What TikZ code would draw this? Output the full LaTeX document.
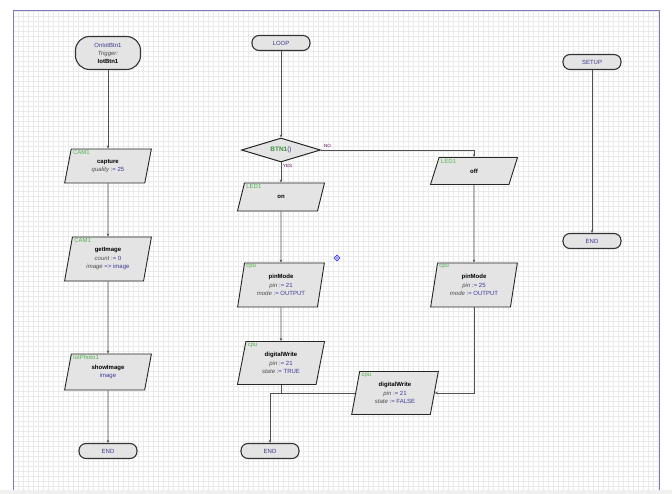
\documentclass[tikz,border=0pt]{standalone}
\usepackage{fontspec}
\setmainfont{Liberation Sans}
\usetikzlibrary{shapes.geometric,arrows.meta}
\definecolor{fillg}{HTML}{E4E4E4}
\definecolor{cmpg}{HTML}{4FB34F}
\definecolor{valb}{HTML}{3A3A9A}
\definecolor{termb}{HTML}{3B3B8C}
\definecolor{frameb}{HTML}{7B7BBB}
\definecolor{gridc}{HTML}{EAEAEA}
\definecolor{linec}{HTML}{505050}
\newcommand{\fpn}[1]{\textit{\color{black!70}#1}}
\newcommand{\fasg}{{\color{valb}:=}}
\newcommand{\fval}[1]{{\color{valb}#1}}
\newcommand{\ffn}[1]{\textbf{#1}}
\tikzset{
 term/.style={draw=black!80, line width=1.1pt, fill=fillg, rounded corners=7pt, minimum width=58pt, minimum height=15pt, inner sep=0pt, font=\fontsize{6}{6}\selectfont, text=termb},
 proc/.style={trapezium, trapezium left angle=78, trapezium right angle=102, trapezium stretches=true, draw=black!85, line width=0.9pt, fill=fillg, minimum width=87pt, inner sep=0pt, font=\fontsize{6}{8.5}\selectfont, align=center},
 dec/.style={diamond, draw=black!85, line width=1pt, fill=fillg, minimum width=79pt, minimum height=24pt, inner sep=0pt, aspect=3},
 cmp/.style={font=\fontsize{6}{6}\selectfont, text=cmpg, anchor=west, inner sep=0pt},
 conn/.style={draw=linec, line width=0.6pt, -{Stealth[length=3pt,width=2.5pt]}},
 plain/.style={draw=linec, line width=0.6pt},
 lbl/.style={font=\fontsize{4.5}{5}\selectfont, text=violet!70!black, inner sep=0pt},
}
\begin{document}
\begin{tikzpicture}[x=1pt,y=-1pt]
\useasboundingbox (0,0) rectangle (672,494);
\fill[white] (0,0) rectangle (672,494);
\fill[black!6] (0,490) rectangle (672,494);
% grid
\foreach \x in {13,18,...,659} \draw[gridc, line width=0.3pt] (\x,11) -- (\x,490);
\foreach \y in {11,16,...,490} \draw[gridc, line width=0.3pt] (13,\y) -- (659,\y);
\draw[frameb, line width=1pt] (13,490) -- (13,11) -- (659,11) -- (659,490);

% column 1
\node[term, rounded corners=14pt, minimum width=65pt, minimum height=33pt, align=center, font=\fontsize{6}{8}\selectfont] (trig) at (108,53) {OnIotBtn1\\\textit{\color{black!70}Trigger:}\\\textbf{\color{black}IotBtn1}};
\node[proc, minimum height=34pt] (cap) at (108,166) {\ffn{capture}\\\fpn{quality} \fasg\ \fval{25}};
\node[cmp] (capl) at ([xshift=2pt,yshift=-4pt]cap.top left corner) {CAM1};
\node[proc, minimum height=44pt] (gi) at (108,259) {\ffn{getImage}\\\fpn{count} \fasg\ \fval{0}\\\fpn{image} \fval{=> image}};
\node[cmp] (gil) at ([xshift=2pt,yshift=-4pt]gi.top left corner) {CAM1};
\node[proc, minimum height=36pt] (show) at (108,372) {\ffn{showImage}\\\fval{image}};
\node[cmp] (showl) at ([xshift=2pt,yshift=-4pt]show.top left corner) {IotPhoto1};
\node[term] (end1) at (108,451) {END};
\draw[conn] (trig) -- (cap);
\draw[conn] (cap) -- (gi);
\draw[conn] (gi) -- (show);
\draw[conn] (show) -- (end1);

% column 2
\node[term] (loop) at (281,43) {LOOP};
\node[dec, font=\fontsize{6.5}{7}\selectfont\bfseries] (btn) at (281,150) {\textcolor{cmpg!80!black}{BTN1}\textcolor{valb}{\mdseries()}};
\node[lbl, anchor=south west] (nol) at ([xshift=3pt,yshift=2pt]btn.east) {NO};
\node[lbl, anchor=north west] (yesl) at ([xshift=2pt,yshift=-2pt]btn.south) {YES};
\node[proc, minimum height=28pt] (on) at (281,197) {\ffn{on}};
\node[cmp] (onl) at ([xshift=2pt,yshift=-4pt]on.top left corner) {LED1};
\node[proc, minimum height=44pt] (pm1) at (281,285) {\ffn{pinMode}\\\fpn{pin} \fasg\ \fval{21}\\\fpn{mode} \fasg\ \fval{OUTPUT}};
\node[cmp] (pm1l) at ([xshift=2pt,yshift=-4pt]pm1.top left corner) {cpu};
\node[proc, minimum height=43pt] (dwt) at (281,363) {\ffn{digitalWrite}\\\fpn{pin} \fasg\ \fval{21}\\\fpn{state} \fasg\ \fval{TRUE}};
\node[cmp] (dwtl) at ([xshift=2pt,yshift=-4pt]dwt.top left corner) {cpu};
\node[term] (end2) at (270,451) {END};
\coordinate (jn) at (281,393);
\draw[conn] (loop) -- (btn);
\draw[conn] (btn) -- (on);
\draw[conn] (on) -- (pm1);
\draw[conn] (pm1) -- (dwt);
\draw[plain] (dwt) -- (jn);

% marker
\node[diamond, draw=blue!80, line width=0.6pt, minimum width=6pt, minimum height=6pt, inner sep=0pt] (mk) at (337,258) {};
\fill[blue!80] (mk.center) circle (0.8pt);

% column 3
\node[proc, minimum height=27pt] (off) at (474,171) {\ffn{off}};
\node[cmp] (offl) at ([xshift=2pt,yshift=-4pt]off.top left corner) {LED1};
\node[proc, minimum height=44pt] (pm2) at (474,285) {\ffn{pinMode}\\\fpn{pin} \fasg\ \fval{25}\\\fpn{mode} \fasg\ \fval{OUTPUT}};
\node[cmp] (pm2l) at ([xshift=2pt,yshift=-4pt]pm2.top left corner) {cpu};
\node[proc, minimum height=43pt] (dwf) at (395,393) {\ffn{digitalWrite}\\\fpn{pin} \fasg\ \fval{21}\\\fpn{state} \fasg\ \fval{FALSE}};
\node[cmp] (dwfl) at ([xshift=2pt,yshift=-4pt]dwf.top left corner) {cpu};
\draw[conn] (btn.east) -| (off);
\draw[conn] (off) -- (pm2);
\draw[conn] (pm2.south) |- (dwf.east);
\draw[conn] (dwf.west) -| (end2);

% column 4
\node[term] (setup) at (592,62) {SETUP};
\node[term] (end4) at (592,241) {END};
\draw[conn] (setup) -- (end4);
\end{tikzpicture}
\end{document}
